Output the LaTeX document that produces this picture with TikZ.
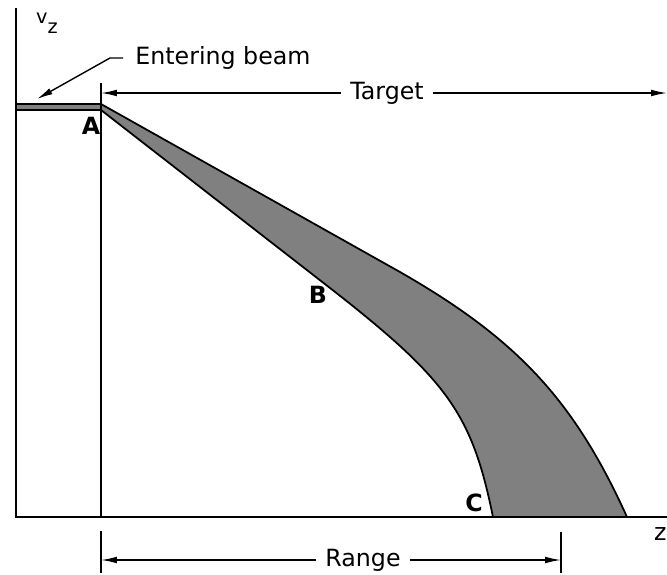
\documentclass[tikz,border=0pt]{standalone}
\usepackage{fontspec}
\setmainfont{DejaVu Sans}
\usetikzlibrary{arrows.meta,positioning}

\begin{document}
\begin{tikzpicture}[x=0.02cm, y=-0.02cm,
    lbl/.style={font=\fontsize{13.5}{15}\selectfont, inner sep=5pt},
    pt/.style={font=\bfseries\fontsize{13.5}{15}\selectfont, inner sep=0pt},
    dim/.style={-{Latex[length=9pt,width=3.8pt]}, line width=0.8pt},
    band/.style={draw=black, line width=1pt, fill=black!50}]

    \useasboundingbox (0,0) rectangle (667,575);

    % axes and target face
    \draw[line width=1.1pt] (16,8) -- (16,517) -- (667,517);
    \draw[line width=1pt] (101,83) -- (101,517);
    \node[font=\fontsize{11}{12}\selectfont, inner sep=0pt] (vz) at (47,23) {v\raisebox{-6pt}{z}};
    \node[lbl, anchor=east, inner sep=0pt] (zax) at (667,534) {z};

    % beam and spread in the target
    \draw[band] (16,104) rectangle (101,110);
    \draw[band] (101,104) -- (400,272) .. controls (517,339) and (574,400) .. (627,517)
        -- (493,517) .. controls (472,414) and (448,380) .. (330,288) -- (101,110) -- cycle;

    \node[pt] (A) at (91,126) {A};
    \node[pt] (B) at (318,295) {B};
    \node[pt] (C) at (474,503) {C};

    % labels with arrows
    \node[lbl, anchor=west, inner sep=0pt] (eb) at (135,58) {Entering beam};
    \coordinate (beam) at (37,99);
    \draw[dim] ([xshift=-0.24cm]eb.west) -- ++(-13,0) -- (beam);

    \node[lbl] (tgt) at (387,93) {Target};
    \coordinate (tl) at (101,93);
    \coordinate (tr) at (667,93);
    \draw[dim] (tgt) -- (tl);
    \draw[dim] (tgt) -- (tr);

    \coordinate (rl) at (101,560);
    \coordinate (rr) at (561,560);
    \draw[line width=0.8pt] (101,531) -- (101,573);
    \draw[line width=0.8pt] (561,532) -- (561,573);
    \node[lbl] (rng) at (363,560) {Range};
    \draw[dim] (rng) -- (rl);
    \draw[dim] (rng) -- (rr);
\end{tikzpicture}
\end{document}
